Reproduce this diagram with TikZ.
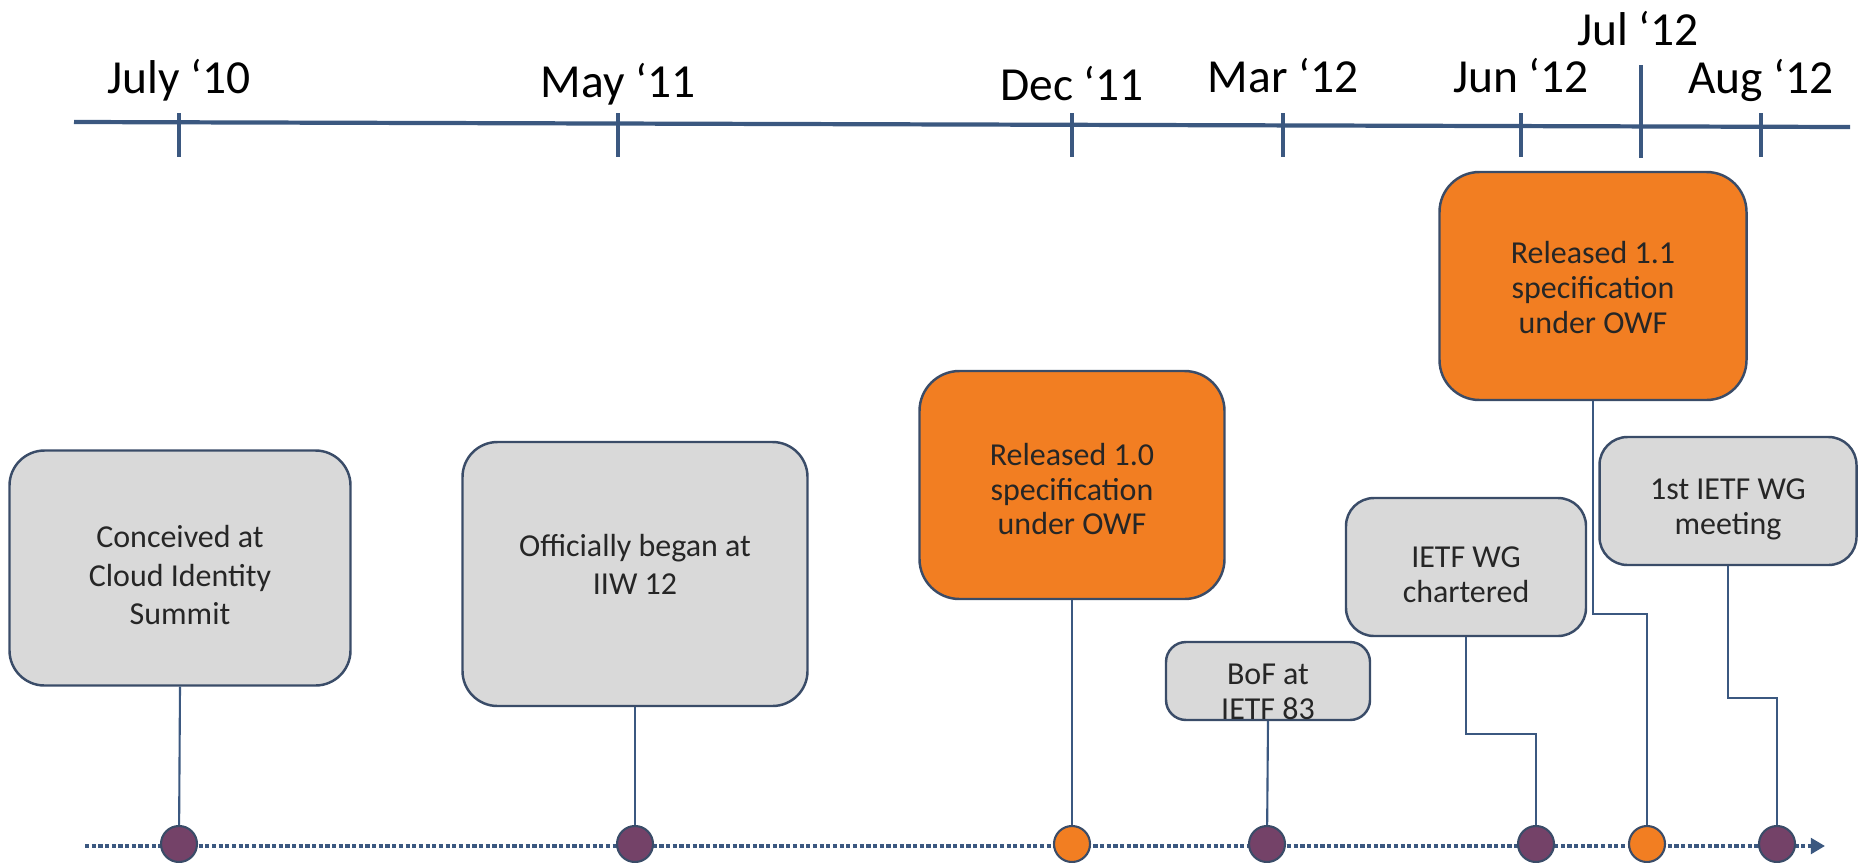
\documentclass[tikz,border=0pt]{standalone}
\usepackage{fontspec}
\setmainfont{Carlito}
\usetikzlibrary{arrows.meta}

\definecolor{axisblue}{RGB}{59,88,128}
\definecolor{boxgray}{RGB}{217,217,217}
\definecolor{boxline}{RGB}{58,76,104}
\definecolor{owforange}{RGB}{242,126,34}
\definecolor{dotpurple}{RGB}{116,66,104}
\definecolor{textgray}{RGB}{38,38,38}

% struts to nudge box text up or down
\newcommand{\hiStrut}[1]{\rule{0pt}{#1}}
\newcommand{\loStrut}[1]{\rule[-#1]{0pt}{#1}}

\tikzset{
  axis/.style={draw=axisblue, line width=1.2pt},
  tick/.style={draw=axisblue, line width=0.9pt},
  datelbl/.style={anchor=base, inner sep=0pt, font=\fontsize{13.5}{16}\selectfont},
  event/.style={draw=boxline, fill=boxgray, line width=0.7pt, rounded corners=3.5mm,
    align=center, inner sep=0pt, text=textgray, font=\fontsize{9.1}{9.9}\selectfont},
  release/.style={event, fill=owforange},
  bigtext/.style={font=\fontsize{9.1}{10.9}\selectfont},
  conn/.style={draw=axisblue, line width=0.6pt},
  pdot/.style={circle, fill=dotpurple, draw=boxline, line width=0.6pt,
    minimum size=3.6mm, inner sep=0pt},
  odot/.style={pdot, fill=owforange},
}

\begin{document}
\begin{tikzpicture}[x=0.1mm,y=-0.1mm]
\useasboundingbox (0,0) rectangle (1860,862);

% dates on top
\draw[axis] (74,122)--(1850,127);
\foreach \x/\lbl/\ly in {179/July ‘10/93, 618/May ‘11/97, 1072/Dec ‘11/100,
  1283/Mar ‘12/92, 1521/Jun ‘12/92, 1761/Aug ‘12/93}{
\draw[tick] (\x,113)--(\x,157);
\node[datelbl] (m\x) at (\x,\ly) {\lbl};
}
\draw[tick] (1641,65)--(1641,158);
\node[datelbl] (m1641) at (1638,45) {Jul ‘12};

% events
\node[event, bigtext, minimum width=34.1mm, minimum height=23.5mm] (b1) at (180,568)
  {\hiStrut{10.4pt}Conceived at\\Cloud Identity\\Summit};
\node[event, bigtext, minimum width=34.5mm, minimum height=26.4mm] (b2) at (635,574)
  {Officially began at\\IIW 12\loStrut{5.4pt}};
\node[release, minimum width=30.5mm, minimum height=22.8mm, rounded corners=4mm] (b3) at (1072,485)
  {\hiStrut{8.6pt}Released 1.0\\specification\\under OWF};
\node[event, minimum width=20.4mm, minimum height=7.8mm, rounded corners=2mm] (b4) at (1268,681)
  {\hiStrut{12pt}BoF at\\IETF 83};
\node[event, minimum width=24mm, minimum height=13.8mm, rounded corners=2.8mm] (b5) at (1466,567)
  {\hiStrut{10.4pt}IETF WG\\chartered};
\node[release, minimum width=30.7mm, minimum height=22.8mm, rounded corners=4mm] (b6) at (1593,286)
  {\hiStrut{7.2pt}Released 1.1\\specification\\under OWF};
\node[event, minimum width=25.7mm, minimum height=12.8mm, rounded corners=2.8mm] (b7) at (1728,501)
  {\hiStrut{10.6pt}1st IETF WG\\meeting};

% time line below
\coordinate (tl0) at (85,846);
\coordinate (tl1) at (1825,846);
\draw[draw=axisblue, line width=1.2pt, dash pattern=on 1.2pt off 0.7pt,
  -{Triangle[length=4pt,width=4.4pt]}] (tl0)--(tl1);

\node[pdot] (d1) at (179,844) {};
\node[pdot] (d2) at (635,844) {};
\node[odot] (d3) at (1072,844) {};
\node[pdot] (d4) at (1267,844) {};
\node[pdot] (d5) at (1536,844) {};
\node[odot] (d6) at (1647,844) {};
\node[pdot] (d7) at (1777,844) {};

\draw[conn] (b1.south)--(d1);
\draw[conn] (b2.south)--(d2);
\draw[conn] (b3.south)--(d3);
\draw[conn] (b4.south)--(d4);
\draw[conn] (b5.south)--++(0,97)-|(d5);
\draw[conn] (b6.south)--++(0,213)-|(d6);
\draw[conn] (b7.south)--++(0,132)-|(d7);
\end{tikzpicture}
\end{document}
